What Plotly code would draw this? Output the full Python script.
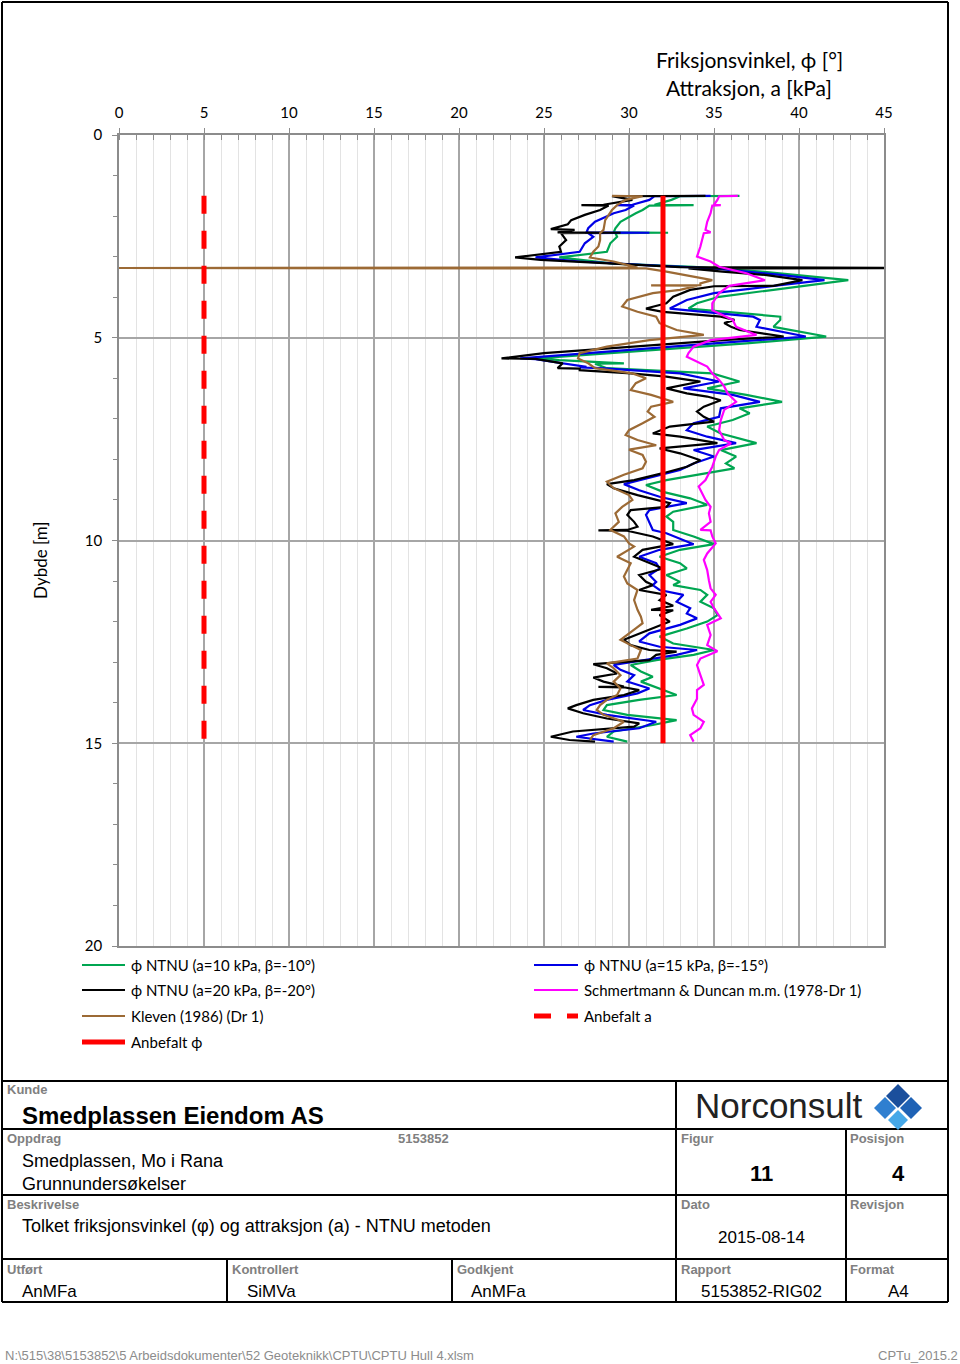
import plotly.graph_objects as go

# ---------------- DATA ----------------
green_depth = [1.50, 1.51, 1.60, 1.72, 1.73, 1.74, 1.85, 1.93, 2.14, 2.30, 2.40, 2.41, 2.42, 2.51, 2.67, 2.88, 3.02, 3.17, 3.25, 3.37, 3.58, 3.74, 3.99, 4.15, 4.28, 4.48, 4.56, 4.73, 4.97, 5.14, 5.51, 5.55, 5.63, 5.64, 5.75, 5.88, 6.08, 6.25, 6.41, 6.58, 6.74, 6.86, 7.03, 7.19, 7.36, 7.60, 7.77, 7.93, 8.10, 8.22, 8.34, 8.51, 8.63, 8.80, 8.96, 9.12, 9.29, 9.41, 9.54, 9.74, 9.90, 10.09, 10.23, 10.40, 10.56, 10.69, 10.85, 11.02, 11.10, 11.22, 11.34, 11.51, 11.67, 11.84, 12.00, 12.17, 12.37, 12.54, 12.70, 12.82, 12.95, 13.07, 13.23, 13.36, 13.48, 13.65, 13.81, 13.93, 14.06, 14.18, 14.30, 14.43, 14.55, 14.71, 14.84, 14.96]
green_phi = [36.5, 33.0, 32.5, 31.5, 33.8, 31.2, 30.8, 30.4, 29.5, 29.2, 29.1, 32.3, 29.2, 29.3, 28.9, 28.7, 25.9, 29.1, 33.8, 37.8, 42.9, 39.9, 35.3, 34.0, 33.5, 38.9, 38.9, 38.5, 41.6, 36.9, 24.6, 25.9, 29.7, 28.0, 28.7, 34.9, 36.5, 34.6, 36.9, 39.0, 36.5, 37.1, 36.1, 34.6, 35.4, 37.5, 35.4, 36.3, 35.7, 36.2, 34.6, 32.2, 31.0, 32.0, 33.6, 34.6, 32.6, 32.2, 32.6, 32.6, 33.8, 35.0, 33.0, 31.8, 33.0, 33.4, 32.2, 33.0, 32.6, 34.2, 34.6, 34.2, 35.0, 35.2, 34.6, 33.4, 31.8, 32.6, 35.0, 33.8, 31.6, 30.1, 30.7, 31.4, 30.7, 31.8, 32.8, 30.6, 28.7, 28.5, 29.9, 32.8, 31.4, 29.1, 28.7, 29.9]

blue_depth = [1.50, 1.51, 1.60, 1.72, 1.73, 1.74, 1.85, 1.93, 2.14, 2.30, 2.40, 2.41, 2.42, 2.51, 2.67, 2.88, 3.02, 3.12, 3.21, 3.29, 3.45, 3.58, 3.70, 3.90, 4.07, 4.28, 4.48, 4.56, 4.73, 4.97, 5.14, 5.51, 5.53, 5.72, 5.73, 5.75, 5.88, 6.08, 6.25, 6.41, 6.58, 6.74, 6.95, 7.11, 7.28, 7.44, 7.60, 7.77, 7.93, 8.10, 8.26, 8.43, 8.61, 8.76, 8.92, 9.08, 9.25, 9.37, 9.54, 9.74, 9.82, 10.09, 10.23, 10.40, 10.56, 10.69, 10.85, 11.02, 11.10, 11.22, 11.34, 11.51, 11.67, 11.80, 11.92, 12.08, 12.29, 12.49, 12.62, 12.70, 12.82, 12.99, 13.07, 13.19, 13.32, 13.48, 13.65, 13.77, 13.93, 14.06, 14.18, 14.30, 14.47, 14.63, 14.76, 14.84, 14.96]
blue_phi = [34.8, 31.5, 31.2, 30.2, 29.3, 30.3, 29.8, 29.1, 28.0, 27.6, 27.5, 31.2, 27.6, 27.9, 27.4, 27.1, 24.5, 27.1, 31.0, 35.0, 38.9, 41.5, 38.9, 35.0, 33.4, 32.4, 37.3, 37.7, 37.5, 40.4, 35.0, 23.6, 24.5, 27.5, 27.1, 28.3, 33.0, 35.3, 33.2, 36.1, 37.7, 35.4, 35.3, 33.8, 33.4, 34.6, 36.3, 33.8, 35.0, 33.8, 33.0, 31.4, 29.7, 30.6, 31.8, 33.4, 31.2, 31.0, 31.2, 31.4, 32.2, 33.8, 31.8, 30.6, 31.6, 31.8, 31.2, 31.6, 31.4, 31.8, 33.2, 32.8, 33.6, 33.4, 34.0, 33.0, 31.2, 30.6, 31.8, 34.0, 32.8, 30.1, 29.1, 29.5, 30.3, 29.9, 31.2, 30.5, 28.7, 27.7, 27.3, 28.7, 31.6, 30.6, 27.9, 26.9, 29.1]

black_depth = [1.50, 1.51, 1.60, 1.72, 1.73, 1.74, 1.85, 1.97, 2.10, 2.20, 2.32, 2.34, 2.40, 2.41, 2.42, 2.59, 2.75, 2.88, 3.02, 3.08, 3.17, 3.26, 3.28, 3.29, 3.37, 3.45, 3.58, 3.70, 3.72, 3.73, 3.82, 3.99, 4.15, 4.28, 4.36, 4.48, 4.56, 4.64, 4.73, 4.81, 4.97, 5.06, 5.22, 5.38, 5.51, 5.52, 5.63, 5.75, 5.76, 5.80, 5.88, 5.96, 6.08, 6.25, 6.37, 6.45, 6.54, 6.70, 6.82, 6.95, 7.07, 7.19, 7.36, 7.44, 7.60, 7.73, 7.85, 8.02, 8.18, 8.34, 8.51, 8.61, 8.71, 8.88, 9.08, 9.17, 9.25, 9.37, 9.54, 9.66, 9.74, 9.75, 9.76, 9.90, 10.09, 10.23, 10.40, 10.56, 10.69, 10.85, 11.02, 11.10, 11.22, 11.34, 11.47, 11.61, 11.71, 11.72, 11.84, 12.00, 12.29, 12.45, 12.58, 12.70, 12.74, 12.82, 12.95, 13.05, 13.15, 13.28, 13.38, 13.48, 13.60, 13.61, 13.62, 13.69, 13.81, 13.93, 14.06, 14.14, 14.26, 14.39, 14.51, 14.59, 14.71, 14.84, 14.92, 14.96]
black_phi = [34.5, 29.0, 30.2, 28.5, 27.2, 28.8, 28.3, 27.4, 26.6, 26.4, 25.4, 26.8, 25.8, 29.5, 26.0, 26.3, 25.9, 26.0, 23.3, 24.8, 29.1, 33.0, 48.0, 33.5, 35.5, 38.0, 40.2, 38.9, 38.5, 35.0, 33.6, 32.6, 32.2, 31.0, 32.0, 35.4, 36.2, 35.6, 36.0, 36.5, 39.1, 35.5, 30.0, 25.0, 22.5, 24.5, 26.1, 25.8, 27.1, 27.1, 30.1, 32.2, 34.2, 32.2, 33.4, 34.6, 35.4, 34.4, 34.0, 34.4, 35.0, 32.4, 31.4, 33.0, 35.2, 31.8, 33.0, 34.2, 33.4, 32.0, 30.3, 28.7, 29.1, 30.5, 32.4, 32.2, 30.1, 29.9, 30.3, 30.5, 29.9, 28.2, 29.9, 31.4, 32.6, 30.8, 30.3, 31.2, 32.0, 30.6, 31.0, 31.4, 30.6, 32.2, 31.8, 32.6, 31.3, 32.6, 31.8, 32.4, 30.6, 29.7, 30.1, 31.2, 32.8, 31.6, 31.2, 27.9, 28.7, 29.3, 27.9, 28.5, 29.7, 28.2, 29.7, 30.6, 29.7, 27.9, 26.9, 26.4, 27.3, 28.7, 30.6, 30.3, 26.7, 25.4, 26.5, 28.0]

schm_depth = [1.50, 1.51, 1.60, 1.72, 1.73, 1.74, 1.93, 2.14, 2.34, 2.40, 2.42, 2.59, 2.75, 3.00, 3.12, 3.25, 3.41, 3.58, 3.72, 3.90, 4.15, 4.32, 4.56, 4.73, 4.93, 5.06, 5.22, 5.38, 5.47, 5.55, 5.71, 5.88, 6.04, 6.20, 6.37, 6.58, 6.78, 7.03, 7.28, 7.52, 7.60, 7.77, 7.93, 8.18, 8.34, 8.51, 8.67, 8.84, 9.00, 9.17, 9.33, 9.54, 9.74, 9.75, 9.90, 10.07, 10.32, 10.48, 10.73, 10.98, 11.18, 11.34, 11.51, 11.67, 11.92, 12.08, 12.33, 12.58, 12.73, 12.91, 13.07, 13.32, 13.56, 13.69, 13.90, 14.14, 14.30, 14.47, 14.63, 14.80, 14.96]
schm_phi = [36.4, 35.3, 35.2, 35.0, 35.4, 34.9, 34.8, 34.6, 34.5, 34.8, 34.4, 34.3, 34.2, 34.0, 34.8, 35.3, 36.9, 38.0, 35.9, 35.3, 34.9, 34.9, 36.1, 36.3, 37.5, 34.8, 33.8, 33.5, 33.4, 33.8, 34.6, 34.9, 35.3, 35.6, 35.8, 36.3, 35.6, 35.4, 35.3, 35.6, 36.0, 35.3, 35.1, 34.9, 34.7, 34.5, 34.1, 34.3, 34.5, 34.8, 34.7, 34.8, 34.2, 34.8, 34.9, 35.1, 34.6, 34.4, 34.6, 34.7, 34.8, 35.1, 34.8, 35.0, 35.4, 34.6, 34.8, 34.6, 35.2, 34.2, 34.0, 34.2, 34.4, 34.0, 34.0, 33.7, 33.8, 34.4, 34.2, 33.6, 33.8]

kleven_depth = [1.50, 1.51, 1.60, 1.73, 1.85, 2.10, 2.34, 2.42, 2.59, 2.75, 2.88, 3.02, 3.12, 3.21, 3.27, 3.28, 3.29, 3.37, 3.49, 3.58, 3.66, 3.70, 3.71, 3.72, 3.82, 3.90, 4.07, 4.23, 4.36, 4.48, 4.64, 4.81, 4.93, 5.06, 5.22, 5.38, 5.51, 5.63, 5.75, 5.88, 6.00, 6.12, 6.29, 6.41, 6.58, 6.70, 6.82, 6.95, 7.11, 7.28, 7.40, 7.52, 7.65, 7.76, 7.89, 8.06, 8.22, 8.38, 8.55, 8.71, 8.88, 9.00, 9.17, 9.33, 9.54, 9.74, 9.90, 10.07, 10.15, 10.40, 10.56, 10.73, 10.89, 11.06, 11.22, 11.47, 11.71, 11.88, 12.04, 12.17, 12.33, 12.45, 12.58, 12.70, 12.91, 13.03, 13.15, 13.32, 13.48, 13.65, 13.81, 13.93, 14.06, 14.18, 14.30, 14.47, 14.63, 14.80, 14.92]
kleven_phi = [29.0, 30.8, 29.8, 29.3, 29.0, 28.6, 28.5, 28.3, 28.3, 28.2, 27.9, 27.7, 29.1, 30.0, 30.5, -2.0, 31.0, 32.2, 33.8, 34.9, 34.2, 34.2, 31.3, 34.0, 33.0, 31.4, 29.9, 29.6, 30.5, 31.6, 31.8, 32.8, 34.4, 31.2, 28.7, 27.1, 27.0, 27.6, 28.0, 30.2, 31.0, 30.4, 30.1, 31.3, 32.6, 31.3, 31.1, 31.5, 30.8, 30.0, 29.8, 30.5, 31.6, 30.0, 30.8, 31.0, 30.8, 29.7, 28.7, 29.1, 30.0, 30.2, 29.6, 29.2, 29.4, 28.9, 29.7, 30.0, 30.3, 29.3, 30.1, 29.9, 29.7, 29.9, 30.5, 30.3, 30.5, 30.7, 30.8, 30.4, 29.9, 29.5, 30.1, 30.7, 30.5, 28.7, 29.1, 29.5, 29.1, 29.5, 29.3, 28.7, 28.3, 28.1, 28.5, 29.7, 29.1, 27.9, 27.7]

anb_phi_depth = [1.5, 15.0]
anb_phi = [32, 32]
anb_a_depth = [1.5, 15.0]
anb_a = [5, 5]

x_ticks = [0, 5, 10, 15, 20, 25, 30, 35, 40, 45]
y_ticks = [0, 5, 10, 15, 20]

series_names = ["ϕ NTNU (a=10 kPa, β=-10°)", "ϕ NTNU (a=15 kPa, β=-15°)",
                "ϕ NTNU (a=20 kPa, β=-20°)", "Schmertmann & Duncan m.m. (1978-Dr 1)",
                "Kleven (1986) (Dr 1)", "Anbefalt a", "Anbefalt ϕ"]

# ---------------- STYLE ----------------
GREEN, BLUE, BLACK, MAG, BROWN, RED = "#00a651", "#0000e6", "#000000", "#ff00ff", "#9c6a35", "#ff0000"
CHART_FONT = "Lato"
TB_FONT = "Liberation Sans"

W, H = 960, 1364
L, R, T, B = 119, 884, 135, 946


def px(x):
    return (x - L) / (R - L)


def py(y):
    return (B - y) / (B - T)


fig = go.Figure()
curves = [
    (green_phi, green_depth, GREEN, series_names[0]),
    (blue_phi, blue_depth, BLUE, series_names[1]),
    (black_phi, black_depth, BLACK, series_names[2]),
    (schm_phi, schm_depth, MAG, series_names[3]),
    (kleven_phi, kleven_depth, BROWN, series_names[4]),
]
for xv, yv, col, nm in curves:
    fig.add_trace(go.Scatter(x=xv, y=yv, mode="lines", name=nm,
                             line=dict(color=col, width=2.2), showlegend=False))
fig.add_trace(go.Scatter(x=anb_a, y=anb_a_depth, mode="lines", name=series_names[5],
                         line=dict(color=RED, width=5, dash="18px,17px"), showlegend=False))
fig.add_trace(go.Scatter(x=anb_phi, y=anb_phi_depth, mode="lines", name=series_names[6],
                         line=dict(color=RED, width=5), showlegend=False))

shapes = []
ann = []

# ---------- manual legend ----------
leg = [
    (82, 125, 965, GREEN, 2, None, series_names[0], 129),
    (534, 578, 965, BLUE, 2, None, series_names[1], 582),
    (82, 125, 990, BLACK, 2, None, series_names[2], 129),
    (534, 578, 990, MAG, 2, None, series_names[3], 582),
    (82, 125, 1016, BROWN, 2, None, series_names[4], 129),
    (534, 578, 1016, RED, 5, "dash", series_names[5], 582),
    (82, 125, 1042, RED, 5, None, series_names[6], 129),
]
for x0, x1, y, col, w, d, txt, tx in leg:
    if d == "dash":
        for a0, a1 in [(534, 551), (567, 578)]:
            shapes.append(dict(type="line", xref="paper", yref="paper", x0=px(a0), x1=px(a1),
                               y0=py(y), y1=py(y), line=dict(color=col, width=w)))
    else:
        shapes.append(dict(type="line", xref="paper", yref="paper", x0=px(x0), x1=px(x1),
                           y0=py(y), y1=py(y), line=dict(color=col, width=w)))
    ann.append(dict(x=px(tx), y=py(y), xref="paper", yref="paper", text=txt, showarrow=False,
                    xanchor="left", yanchor="middle", font=dict(family=CHART_FONT, size=15, color="black")))

# ---------- axis titles ----------
ann.append(dict(x=px(749), y=py(60), xref="paper", yref="paper", text="Friksjonsvinkel, ϕ [°]",
                showarrow=False, xanchor="center", yanchor="middle",
                font=dict(family=CHART_FONT, size=21, color="black")))
ann.append(dict(x=px(749), y=py(88), xref="paper", yref="paper", text="Attraksjon, a [kPa]",
                showarrow=False, xanchor="center", yanchor="middle",
                font=dict(family=CHART_FONT, size=21, color="black")))
ann.append(dict(x=px(40), y=py(561), xref="paper", yref="paper", text="Dybde [m]", textangle=-90,
                showarrow=False, xanchor="center", yanchor="middle",
                font=dict(family=CHART_FONT, size=17, color="black")))

# ---------- frame & title block ----------
def hline(x0, x1, y, w=2):
    shapes.append(dict(type="line", xref="paper", yref="paper", x0=px(x0), x1=px(x1),
                       y0=py(y), y1=py(y), line=dict(color="black", width=w)))


def vline(x, y0, y1, w=2):
    shapes.append(dict(type="line", xref="paper", yref="paper", x0=px(x), x1=px(x),
                       y0=py(y0), y1=py(y1), line=dict(color="black", width=w)))


hline(2, 948, 2)
vline(2, 2, 1302)
vline(948, 2, 1302)
hline(2, 948, 1081)
hline(2, 948, 1129)
hline(2, 948, 1195)
hline(2, 948, 1259)
hline(2, 948, 1302)
vline(676, 1081, 1302)
vline(846, 1129, 1302)
vline(227, 1259, 1302)
vline(452, 1259, 1302)


def label(x, y, txt, size=13, color="#808080", bold=True, anchor="left"):
    t = f"<b>{txt}</b>" if bold else txt
    ann.append(dict(x=px(x), y=py(y), xref="paper", yref="paper", text=t, showarrow=False,
                    xanchor=anchor, yanchor="middle", font=dict(family=TB_FONT, size=size, color=color)))


label(5, 1089, "Kunde")
label(20, 1115, "Smedplassen Eiendom AS", size=24, color="black")
label(5, 1138, "Oppdrag")
label(396, 1138, "5153852")
label(20, 1161, "Smedplassen, Mo i Rana", size=18, color="black", bold=False)
label(20, 1184, "Grunnundersøkelser", size=18, color="black", bold=False)
label(679, 1138, "Figur")
label(761, 1173, "11", size=22, color="black", anchor="center")
label(848, 1138, "Posisjon")
label(898, 1173, "4", size=22, color="black", anchor="center")
label(5, 1204, "Beskrivelse")
label(20, 1226, "Tolket friksjonsvinkel (φ) og attraksjon (a) - NTNU metoden", size=18, color="black", bold=False)
label(679, 1204, "Dato")
label(761, 1237, "2015-08-14", size=17, color="black", bold=False, anchor="center")
label(848, 1204, "Revisjon")
label(5, 1269, "Utført")
label(20, 1291, "AnMFa", size=17, color="black", bold=False)
label(230, 1269, "Kontrollert")
label(245, 1291, "SiMVa", size=17, color="black", bold=False)
label(455, 1269, "Godkjent")
label(469, 1291, "AnMFa", size=17, color="black", bold=False)
label(679, 1269, "Rapport")
label(761, 1291, "5153852-RIG02", size=17, color="black", bold=False, anchor="center")
label(848, 1269, "Format")
label(898, 1291, "A4", size=17, color="black", bold=False, anchor="center")
label(3, 1355, "N:\\515\\38\\5153852\\5 Arbeidsdokumenter\\52 Geoteknikk\\CPTU\\CPTU Hull 4.xlsm",
      size=13, color="#8c8c8c", bold=False)
label(960, 1355, "CPTu_2015.2", size=13, color="#8c8c8c", bold=False, anchor="right")

# Norconsult logo
label(693, 1105, "Norconsult", size=35, color="#222222", bold=False)


def diamond(cx, cy, r, col):
    path = f"M {px(cx)},{py(cy - r)} L {px(cx + r)},{py(cy)} L {px(cx)},{py(cy + r)} L {px(cx - r)},{py(cy)} Z"
    shapes.append(dict(type="path", xref="paper", yref="paper", path=path,
                       fillcolor=col, line=dict(width=0)))


diamond(898, 1096, 12, "#1b4f9c")
diamond(885, 1108, 11, "#2f7fd0")
diamond(911, 1108, 11, "#1f62b5")
diamond(898, 1120, 10, "#46a8e8")

fig.update_layout(
    width=W, height=H,
    margin=dict(l=L, r=W - R, t=T, b=H - B, pad=0),
    paper_bgcolor="white", plot_bgcolor="white",
    showlegend=False,
    shapes=shapes, annotations=ann,
    font=dict(family=CHART_FONT, size=15, color="black"),
)
fig.update_xaxes(
    range=[0, 45], side="top", tickmode="array", tickvals=x_ticks,
    ticktext=[str(v) for v in x_ticks],
    showline=True, linecolor="#8c8c8c", linewidth=1.5, mirror=True,
    showgrid=True, gridcolor="#a6a6a6", gridwidth=1.5,
    ticks="outside", ticklen=5, tickcolor="#8c8c8c", ticklabelstandoff=4,
    tickfont=dict(family=CHART_FONT, size=15, color="black"),
    minor=dict(dtick=1, showgrid=True, gridcolor="#e3e3e3", gridwidth=1,
               ticks="inside", ticklen=5, tickcolor="#8c8c8c"),
    zeroline=False, fixedrange=True,
)
fig.update_yaxes(
    range=[20, 0], tickmode="array", tickvals=y_ticks,
    ticktext=[str(v) for v in y_ticks],
    showline=True, linecolor="#8c8c8c", linewidth=1.5, mirror=True,
    showgrid=True, gridcolor="#a6a6a6", gridwidth=1.5,
    ticks="outside", ticklen=5, tickcolor="#8c8c8c", ticklabelstandoff=7,
    tickfont=dict(family=CHART_FONT, size=15, color="black"),
    minor=dict(dtick=1, showgrid=False, ticks="outside", ticklen=4, tickcolor="#8c8c8c"),
    zeroline=False, fixedrange=True,
)

fig.write_html("out.html")
